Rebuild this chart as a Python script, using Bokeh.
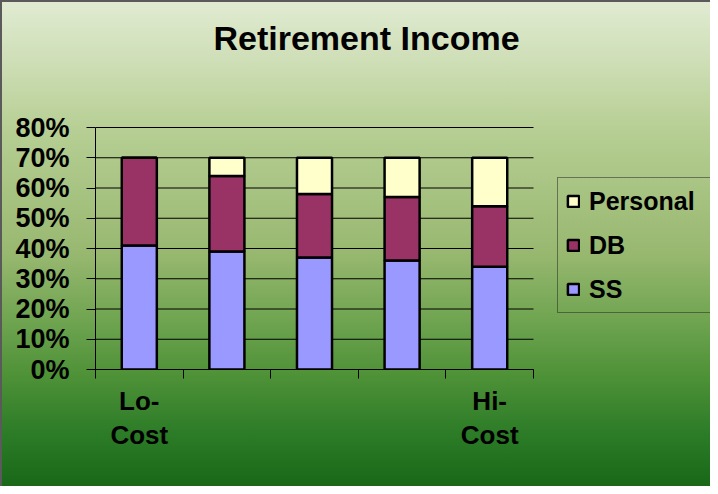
from bokeh.plotting import figure
from bokeh.models import (ColumnDataSource, FixedTicker, NumeralTickFormatter, Legend,
                          LegendItem, Range1d, Label)
from bokeh.embed import file_html
from bokeh.resources import INLINE

# ---- data ----
positions = [1, 2, 3, 4, 5]
category_labels = {1: "Lo-\nCost", 5: "Hi-\nCost"}
series = ["SS", "DB", "Personal"]
ss = [0.41, 0.39, 0.37, 0.36, 0.34]
db = [0.29, 0.25, 0.21, 0.21, 0.20]
personal = [0.00, 0.06, 0.12, 0.13, 0.16]
colors = ["#9999FF", "#993366", "#FFFFCC"]
y_ticks = [0.0, 0.1, 0.2, 0.3, 0.4, 0.5, 0.6, 0.7, 0.8]
title_text = "Retirement Income"

FONT = "Liberation Sans"

x_lo = positions[0] - 0.5
x_hi = positions[-1] + 0.5
boundaries = [x_lo + i for i in range(len(positions) + 1)]

source = ColumnDataSource(dict(x=positions, SS=ss, DB=db, Personal=personal))

# frame spans from the plot's left edge to the window's right edge and from the
# top of the figure down to the x axis; data area occupies the lower-left part.
FRAME_W, FRAME_H = 615, 369
PX_PER_CAT = 87.6
PX_PER_UNIT_Y = 302.5
p = figure(width=710, height=486, output_backend="svg", toolbar_location=None,
           x_range=Range1d(x_lo, x_lo + FRAME_W / PX_PER_CAT),
           y_range=Range1d(0, FRAME_H / PX_PER_UNIT_Y),
           min_border_left=95, min_border_right=0, min_border_top=0,
           min_border_bottom=117)
p.title = None
p.border_fill_color = None
p.background_fill_color = None
p.outline_line_color = None
p.styles = {
    "background": "linear-gradient(to bottom, #e1ebd2 0%, #cfdfb8 12%, #b6ce93 27%, "
                  "#98b870 52%, #6fa450 66%, #4f9238 77%, #2a7a26 90%, #186818 100%)",
    "box-shadow": "inset 2px 2px 0 #5a5a5a",
}

# gridlines over the category extent
p.segment(x0=[x_lo] * len(y_ticks), x1=[x_hi] * len(y_ticks), y0=y_ticks, y1=y_ticks,
          line_color="black", line_width=1)

renderers = p.vbar_stack(series, x="x", width=0.4, source=source, color=colors,
                         line_color="black", line_width=2.5)

# title
p.add_layout(Label(x=271, y=332, x_units="screen", y_units="screen", text=title_text,
                   text_align="center", text_baseline="middle",
                   text_font=FONT, text_font_size="34px", text_font_style="bold",
                   text_color="black"))

# y axis
p.yaxis.ticker = FixedTicker(ticks=y_ticks, minor_ticks=[])
p.yaxis.bounds = (y_ticks[0], y_ticks[-1])
p.yaxis.formatter = NumeralTickFormatter(format="0%")
p.yaxis.major_label_text_font = FONT
p.yaxis.major_label_text_font_size = "27px"
p.yaxis.major_label_text_font_style = "bold"
p.yaxis.major_label_text_color = "black"
p.yaxis.major_tick_out = 9
p.yaxis.major_tick_in = 0
p.yaxis.minor_tick_line_color = None
p.yaxis.axis_line_color = "black"
p.yaxis.major_tick_line_color = "black"
p.yaxis.major_label_standoff = 17

# x axis
p.xaxis.ticker = FixedTicker(ticks=[positions[0], positions[-1]], minor_ticks=boundaries)
p.xaxis.bounds = (x_lo, x_hi)
p.xaxis.major_label_overrides = category_labels
p.xaxis.major_tick_line_color = None
p.xaxis.major_tick_out = 0
p.xaxis.major_tick_in = 0
p.xaxis.minor_tick_out = 9
p.xaxis.minor_tick_in = 0
p.xaxis.minor_tick_line_color = "black"
p.xaxis.axis_line_color = "black"
p.xaxis.major_label_text_font = FONT
p.xaxis.major_label_text_font_size = "26px"
p.xaxis.major_label_text_font_style = "bold"
p.xaxis.major_label_text_color = "black"
p.xaxis.major_label_text_line_height = 1.15
p.xaxis.major_label_standoff = 7

# grid handled by segments
p.xgrid.grid_line_color = None
p.ygrid.grid_line_color = None

# legend (reverse order)
items = [LegendItem(label=series[i], renderers=[renderers[i]]) for i in [2, 1, 0]]
legend = Legend(items=items, location=(462, 56), orientation="vertical",
                background_fill_alpha=0, border_line_color="#222222", border_line_width=1,
                label_text_font=FONT, label_text_font_size="25px",
                label_text_font_style="bold", label_text_color="black",
                glyph_width=14, glyph_height=14, label_height=30, label_width=200,
                label_standoff=9, spacing=14, padding=8, margin=0)
p.add_layout(legend, "center")

open("out.html", "w").write(file_html(p, INLINE))
